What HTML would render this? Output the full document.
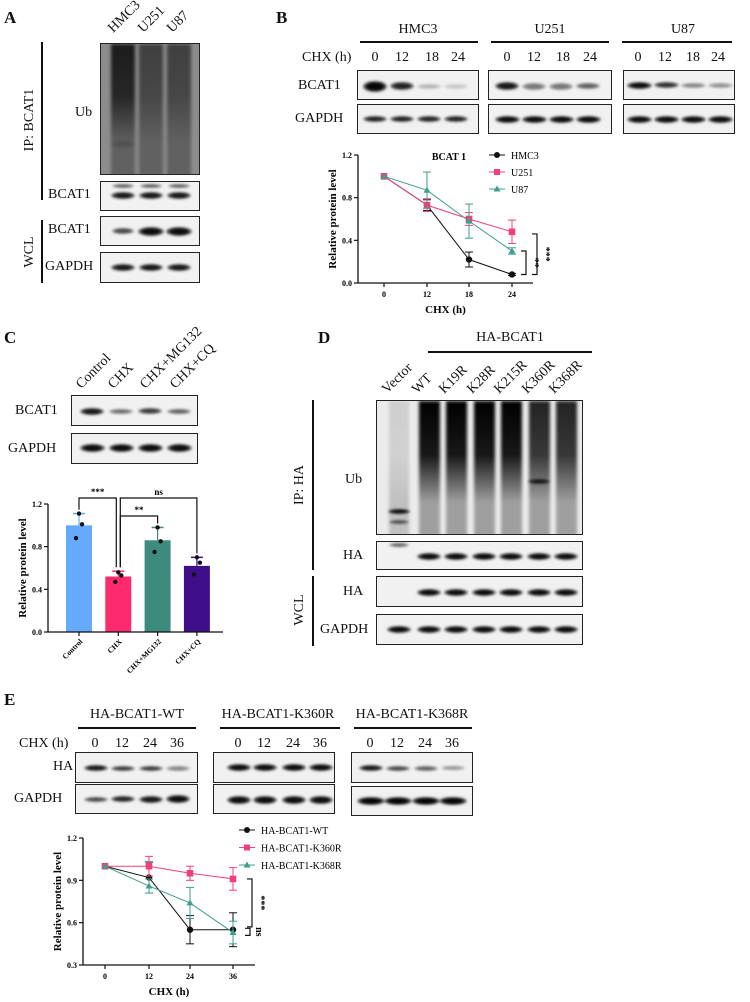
<!DOCTYPE html>
<html><head><meta charset="utf-8">
<style>
html,body{margin:0;padding:0;background:#fff;}
#root{position:relative;width:750px;height:1002px;overflow:hidden;font-family:"Liberation Serif",serif;color:#111;}
.t{position:absolute;white-space:nowrap;font-size:14px;line-height:1;}
.pl{position:absolute;font-weight:bold;font-size:17px;font-family:"Liberation Serif",serif;}
.box{position:absolute;border:1.5px solid #222;background:#f1f1f1;overflow:hidden;box-sizing:border-box;}
.band{position:absolute;border-radius:50%;filter:blur(1.2px);}
.hl{position:absolute;height:2px;background:#111;}
.vl{position:absolute;width:1.5px;background:#111;}
.rot{position:absolute;white-space:nowrap;font-size:14px;transform-origin:0 100%;transform:rotate(-45deg);line-height:1;}
.vr{position:absolute;white-space:nowrap;font-size:14px;transform:translate(-50%,-50%) rotate(-90deg);line-height:1;}
svg text{font-family:"Liberation Serif",serif;}
</style></head>
<body>
<div id="root">

<!-- Panel A -->
<div class="pl" style="left:4px;top:8px">A</div>
<div class="rot" style="left:116px;top:22px">HMC3</div>
<div class="rot" style="left:146px;top:22px">U251</div>
<div class="rot" style="left:175px;top:22px">U87</div>
<div class="vl" style="left:41px;top:42px;height:158px"></div>
<div class="vr" style="left:30px;top:120px">IP: BCAT1</div>
<div class="vl" style="left:41px;top:220px;height:63px"></div>
<div class="vr" style="left:30px;top:252px">WCL</div>
<div class="t" style="left:75px;top:106px">Ub</div>
<div class="t" style="left:48px;top:188px">BCAT1</div>
<div class="t" style="left:48px;top:223px">BCAT1</div>
<div class="t" style="left:45px;top:260px">GAPDH</div>
<div class="box" id="a-ub" style="left:100px;top:43px;width:100px;height:132px;background:#8c8c8c"></div>
<div class="box" id="a-b1" style="left:100px;top:181px;width:100px;height:30px"></div>
<div class="box" id="a-b2" style="left:100px;top:216px;width:100px;height:30px"></div>
<div class="box" id="a-g" style="left:100px;top:252px;width:100px;height:31px"></div>

<!-- Panel B -->
<div class="pl" style="left:276px;top:8px">B</div>
<div class="t" style="left:418px;top:23px;transform:translateX(-50%)">HMC3</div>
<div class="t" style="left:550px;top:23px;transform:translateX(-50%)">U251</div>
<div class="t" style="left:683px;top:23px;transform:translateX(-50%)">U87</div>
<div class="hl" style="left:360px;top:41px;width:118px"></div>
<div class="hl" style="left:491px;top:41px;width:118px"></div>
<div class="hl" style="left:622px;top:41px;width:110px"></div>
<div class="t" style="left:302px;top:51px">CHX (h)</div>
<div id="b-lanes"></div>
<div class="t" style="left:298px;top:79px">BCAT1</div>
<div class="t" style="left:295px;top:112px">GAPDH</div>
<div class="box" id="b-b1" style="left:357px;top:70px;width:122px;height:30px"></div>
<div class="box" id="b-g1" style="left:357px;top:104px;width:122px;height:30px"></div>
<div class="box" id="b-b2" style="left:488px;top:70px;width:124px;height:30px"></div>
<div class="box" id="b-g2" style="left:488px;top:104px;width:124px;height:30px"></div>
<div class="box" id="b-b3" style="left:623px;top:70px;width:112px;height:30px"></div>
<div class="box" id="b-g3" style="left:623px;top:104px;width:112px;height:30px"></div>
<svg id="chartB" style="position:absolute;left:0;top:0" width="750" height="1002"></svg>

<!-- Panel C -->
<div class="pl" style="left:4px;top:328px">C</div>
<div class="rot" style="left:84px;top:378px">Control</div>
<div class="rot" style="left:116px;top:378px">CHX</div>
<div class="rot" style="left:148px;top:378px">CHX+MG132</div>
<div class="rot" style="left:178px;top:378px">CHX+CQ</div>
<div class="t" style="left:15px;top:404px">BCAT1</div>
<div class="t" style="left:8px;top:442px">GAPDH</div>
<div class="box" id="c-b" style="left:71px;top:395px;width:127px;height:31px"></div>
<div class="box" id="c-g" style="left:71px;top:433px;width:127px;height:31px"></div>

<!-- Panel D -->
<div class="pl" style="left:318px;top:328px">D</div>
<div class="t" style="left:510px;top:331px;transform:translateX(-50%)">HA-BCAT1</div>
<div class="hl" style="left:428px;top:351px;width:164px"></div>
<div id="d-lanes"></div>
<div class="vl" style="left:312px;top:400px;height:170px"></div>
<div class="vr" style="left:300px;top:485px">IP: HA</div>
<div class="vl" style="left:312px;top:576px;height:70px"></div>
<div class="vr" style="left:300px;top:610px">WCL</div>
<div class="t" style="left:345px;top:473px">Ub</div>
<div class="t" style="left:343px;top:549px">HA</div>
<div class="t" style="left:343px;top:585px">HA</div>
<div class="t" style="left:320px;top:623px">GAPDH</div>
<div class="box" id="d-ub" style="left:376px;top:400px;width:207px;height:135px;background:#ebebeb"></div>
<div class="box" id="d-ha1" style="left:376px;top:541px;width:207px;height:29px"></div>
<div class="box" id="d-ha2" style="left:376px;top:576px;width:207px;height:31px"></div>
<div class="box" id="d-g" style="left:376px;top:614px;width:207px;height:31px"></div>

<!-- Panel E -->
<div class="pl" style="left:4px;top:690px">E</div>
<div class="t" style="left:137px;top:708px;transform:translateX(-50%)">HA-BCAT1-WT</div>
<div class="t" style="left:278px;top:708px;transform:translateX(-50%)">HA-BCAT1-K360R</div>
<div class="t" style="left:412px;top:708px;transform:translateX(-50%)">HA-BCAT1-K368R</div>
<div class="hl" style="left:78px;top:727px;width:118px"></div>
<div class="hl" style="left:220px;top:727px;width:120px"></div>
<div class="hl" style="left:354px;top:727px;width:118px"></div>
<div class="t" style="left:19px;top:737px">CHX (h)</div>
<div id="e-lanes"></div>
<div class="t" style="left:53px;top:760px">HA</div>
<div class="t" style="left:14px;top:792px">GAPDH</div>
<div class="box" id="e-h1" style="left:75px;top:752px;width:123px;height:31px"></div>
<div class="box" id="e-g1" style="left:75px;top:784px;width:123px;height:30px"></div>
<div class="box" id="e-h2" style="left:213px;top:752px;width:122px;height:31px"></div>
<div class="box" id="e-g2" style="left:213px;top:784px;width:122px;height:30px"></div>
<div class="box" id="e-h3" style="left:351px;top:752px;width:122px;height:31px"></div>
<div class="box" id="e-g3" style="left:351px;top:786px;width:122px;height:30px"></div>
</div>

<script>
// ---------- chart data ----------
const bTimes = [0, 12, 18, 24];
const bHMC3 = [1.0, 0.73, 0.22, 0.08];
const bHMC3Err = [0, 0.05, 0.07, 0.01];
const bU251 = [1.0, 0.73, 0.60, 0.48];
const bU251Err = [0, 0.06, 0.06, 0.11];
const bU87 = [1.0, 0.87, 0.58, 0.30];
const bU87Err = [0, 0.17, 0.16, 0.03];
const bYTicks = [0.0, 0.4, 0.8, 1.2];

const cCats = ["Control", "CHX", "CHX+MG132", "CHX+CQ"];
const cMeans = [1.0, 0.52, 0.86, 0.62];
const cErr = [0.11, 0.05, 0.12, 0.08];
const cPoints = [[1.11, 1.01, 0.88], [0.56, 0.53, 0.47], [0.98, 0.85, 0.75], [0.70, 0.65, 0.54]];
const cYTicks = [0.0, 0.4, 0.8, 1.2];

const eTimes = [0, 12, 24, 36];
const eWT = [1.0, 0.92, 0.55, 0.55];
const eWTErr = [0, 0.11, 0.1, 0.12];
const eK360 = [1.0, 1.0, 0.95, 0.91];
const eK360Err = [0, 0.07, 0.05, 0.08];
const eK368 = [1.0, 0.86, 0.74, 0.53];
const eK368Err = [0, 0.05, 0.11, 0.08];
const eYTicks = [0.3, 0.6, 0.9, 1.2];

const NS = "http://www.w3.org/2000/svg";
function sv(parent, tag, attrs) {
  const e = document.createElementNS(NS, tag);
  for (const k in attrs) e.setAttribute(k, attrs[k]);
  parent.appendChild(e);
  return e;
}
function txt(parent, x, y, s, size, anchor, extra) {
  const e = sv(parent, "text", Object.assign({x: x, y: y, "font-size": size, "font-weight": "bold", "text-anchor": anchor || "middle"}, extra || {}));
  e.textContent = s;
  return e;
}

// ---------- blot helpers ----------
function band(boxId, cx, cy, w, h, a) {
  const box = document.getElementById(boxId);
  const d = document.createElement("div");
  d.className = "band";
  
  
  d.style.left = (cx - w / 2) + "px";
  d.style.top = (cy - h / 2) + "px";
  d.style.width = w + "px";
  d.style.height = h + "px";
  d.style.background = "radial-gradient(ellipse at center, rgba(0,0,0," + a + ") 45%, rgba(0,0,0," + (a * 0.5) + ") 70%, rgba(0,0,0,0) 100%)";
  box.appendChild(d);
}
function smear(boxId, cx, w, topA, botA, h) {
  const box = document.getElementById(boxId);
  const d = document.createElement("div");
  
  
  d.style.position = "absolute";
  d.style.left = (cx - w / 2) + "px";
  d.style.top = "0px";
  d.style.width = w + "px";
  d.style.height = h + "px";
  d.style.filter = "blur(1.5px)";
  d.style.background = "linear-gradient(to bottom, rgba(0,0,0," + topA + ") 0%, rgba(0,0,0," + (topA * 0.9) + ") 40%, rgba(0,0,0," + botA + ") 75%, rgba(0,0,0," + botA + ") 100%)";
  box.appendChild(d);
}
function lane(containerId, x, y, s) {
  const c = document.getElementById(containerId);
  const d = document.createElement("div");
  d.className = "t";
  
  
  d.style.left = x + "px";
  d.style.top = y + "px";
  d.style.transform = "translateX(-50%)";
  d.textContent = s;
  c.appendChild(d);
}
function rotLane(containerId, x, y, s) {
  const c = document.getElementById(containerId);
  const d = document.createElement("div");
  d.className = "rot";
  
  
  d.style.left = x + "px";
  d.style.top = y + "px";
  d.textContent = s;
  c.appendChild(d);
}

// Panel A blots
[22, 50, 78].forEach((x, i) => smear("a-ub", x, 24, [0.8, 0.55, 0.55][i], 0.3, 132));
band("a-ub", 22, 100, 24, 8, 0.15);
[22, 50, 78].forEach(x => { band("a-b1", x, 4, 22, 4, 0.6); band("a-b1", x, 13, 24, 7, 0.9); });
band("a-b2", 22, 14, 22, 6, 0.7); band("a-b2", 50, 14, 26, 9, 0.95); band("a-b2", 78, 14, 26, 9, 0.95);
[22, 50, 78].forEach(x => band("a-g", x, 14, 24, 7, 0.9));

// Panel B blots
const bLaneX = [375, 402, 432, 458];
["0", "12", "18", "24"].forEach((s, i) => lane("b-lanes", bLaneX[i], 51, s));
["0", "12", "18", "24"].forEach((s, i) => lane("b-lanes", [507, 534, 563, 590][i], 51, s));
["0", "12", "18", "24"].forEach((s, i) => lane("b-lanes", [638, 665, 693, 718][i], 51, s));
[[0.98, 11], [0.85, 8], [0.25, 5], [0.18, 5]].forEach((v, i) => band("b-b1", 17 + i * 27, 15, 24, v[1], v[0]));
[0, 1, 2, 3].forEach(i => band("b-g1", 17 + i * 27, 14, 24, 6, 0.85));
[[0.9, 8], [0.5, 7], [0.5, 7], [0.6, 6]].forEach((v, i) => band("b-b2", 18 + i * 27, 15, 24, v[1], v[0]));
[0, 1, 2, 3].forEach(i => band("b-g2", 18 + i * 27, 14, 25, 7, 0.95));
[[0.95, 7], [0.8, 6], [0.45, 5], [0.4, 5]].forEach((v, i) => band("b-b3", 15 + i * 27, 14, 25, v[1], v[0]));
[0, 1, 2, 3].forEach(i => band("b-g3", 15 + i * 27, 14, 25, 7, 0.95));

// Panel C blots
[[0.9, 7], [0.55, 5], [0.75, 6], [0.6, 5]].forEach((v, i) => band("c-b", 20 + i * 29, 15, 24, v[1], v[0]));
[0, 1, 2, 3].forEach(i => band("c-g", 20 + i * 29, 14, 25, 8, 0.95));

// Panel D
const dLanes = ["Vector", "WT", "K19R", "K28R", "K215R", "K360R", "K368R"];
const dX = [398, 428, 455, 483, 510, 538, 565];
dLanes.forEach((s, i) => rotLane("d-lanes", dX[i] - 8, 383, s));
dX.forEach((x, i) => {
  const rx = x - 376;
  if (i === 0) smear("d-ub", rx, 20, 0.12, 0.18, 135);
  else smear("d-ub", rx, 21, i >= 5 ? 0.85 : 1.0, 0.32, 135);
});
band("d-ub", 22, 110, 22, 5, 0.95); band("d-ub", 22, 121, 20, 4, 0.6);
band("d-ub", 162, 80, 22, 5, 0.8);
dX.forEach((x, i) => { if (i > 0) band("d-ha1", x - 376, 14, 24, 7, 0.95); });
band("d-ha1", 22, 3, 20, 4, 0.6);
dX.forEach((x, i) => { if (i > 0) band("d-ha2", x - 376, 15, 24, 7, 0.95); });
dX.forEach((x, i) => band("d-g", x - 376, 14, 24, 7, 0.95));

// Panel E
const eLaneSets = [[95, 122, 150, 177], [238, 264, 293, 320], [370, 397, 425, 452]];
eLaneSets.forEach(set => ["0", "12", "24", "36"].forEach((s, i) => lane("e-lanes", set[i], 737, s)));
[[0.9, 6], [0.75, 5], [0.75, 5], [0.45, 5]].forEach((v, i) => band("e-h1", eLaneSets[0][i] - 75, 15, 24, v[1], v[0]));
[[0.7, 5], [0.85, 6], [0.9, 7], [0.95, 8]].forEach((v, i) => band("e-g1", eLaneSets[0][i] - 75, 14, 24, v[1], v[0]));
[0, 1, 2, 3].forEach(i => band("e-h2", eLaneSets[1][i] - 213, 14, 24, 7, 0.95));
[0, 1, 2, 3].forEach(i => band("e-g2", eLaneSets[1][i] - 213, 15, 24, 8, 0.95));
[[0.9, 6], [0.7, 5], [0.6, 5], [0.4, 4]].forEach((v, i) => band("e-h3", eLaneSets[2][i] - 351, 15, 24, v[1], v[0]));
[0, 1, 2, 3].forEach(i => band("e-g3", eLaneSets[2][i] - 351, 14, 28, 8, 0.98));

// ---------- line chart helper ----------
const svg = document.getElementById("chartB");
function lineChart(cfg) {
  const g = sv(svg, "g", {});
  
  
  const ys = v => cfg.y0 - (v - cfg.ymin) / (cfg.ymax - cfg.ymin) * (cfg.y0 - cfg.y1);
  const xs = i => cfg.xpos[i];
  sv(g, "line", {x1: cfg.ax, y1: cfg.y1, x2: cfg.ax, y2: cfg.y0, stroke: "#111", "stroke-width": 1.3});
  sv(g, "line", {x1: cfg.ax, y1: cfg.y0, x2: cfg.axEnd, y2: cfg.y0, stroke: "#111", "stroke-width": 1.3});
  cfg.yTicks.forEach(t => {
    sv(g, "line", {x1: cfg.ax - 4, y1: ys(t), x2: cfg.ax, y2: ys(t), stroke: "#111", "stroke-width": 1.2});
    txt(g, cfg.ax - 6, ys(t) + 3, t.toFixed(1), 8, "end");
  });
  cfg.xLabels.forEach((t, i) => {
    sv(g, "line", {x1: xs(i), y1: cfg.y0, x2: xs(i), y2: cfg.y0 + 4, stroke: "#111", "stroke-width": 1.2});
    txt(g, xs(i), cfg.y0 + 14, String(t), 8, "middle");
  });
  txt(g, (cfg.ax + cfg.axEnd) / 2, cfg.y0 + 30, "CHX (h)", 11, "middle");
  txt(g, 0, 0, "Relative protein level", 11, "middle", {transform: "translate(" + (cfg.ax - 22) + "," + ((cfg.y0 + cfg.y1) / 2) + ") rotate(-90)"});
  cfg.series.forEach((s, si) => {
    const pts = s.vals.map((v, i) => xs(i) + "," + ys(v)).join(" ");
    sv(g, "polyline", {points: pts, fill: "none", stroke: s.color, "stroke-width": 1});
    s.vals.forEach((v, i) => {
      const e = s.err[i];
      if (e > 0) {
        sv(g, "line", {x1: xs(i), y1: ys(v + e), x2: xs(i), y2: ys(v - e), stroke: s.color, "stroke-width": 1});
        sv(g, "line", {x1: xs(i) - 4, y1: ys(v + e), x2: xs(i) + 4, y2: ys(v + e), stroke: s.color, "stroke-width": 1});
        sv(g, "line", {x1: xs(i) - 4, y1: ys(v - e), x2: xs(i) + 4, y2: ys(v - e), stroke: s.color, "stroke-width": 1});
      }
      let m;
      if (s.shape === "circle") m = sv(g, "circle", {cx: xs(i), cy: ys(v), r: 3.2, fill: s.color});
      else if (s.shape === "square") m = sv(g, "rect", {x: xs(i) - 3.3, y: ys(v) - 3.3, width: 6.6, height: 6.6, fill: s.color});
      else m = sv(g, "polygon", {points: (xs(i)) + "," + (ys(v) - 3.5) + " " + (xs(i) - 3.5) + "," + (ys(v) + 2.5) + " " + (xs(i) + 3.5) + "," + (ys(v) + 2.5), fill: s.color});
      
      
    });
  });
  cfg.series.forEach((s, si) => {
    const ly = cfg.legY + si * cfg.legDy;
    sv(g, "line", {x1: cfg.legX - 8, y1: ly, x2: cfg.legX + 8, y2: ly, stroke: s.color, "stroke-width": 1});
    if (s.shape === "circle") sv(g, "circle", {cx: cfg.legX, cy: ly, r: 3, fill: s.color});
    else if (s.shape === "square") sv(g, "rect", {x: cfg.legX - 3, y: ly - 3, width: 6, height: 6, fill: s.color});
    else sv(g, "polygon", {points: cfg.legX + "," + (ly - 3.5) + " " + (cfg.legX - 3.5) + "," + (ly + 2.5) + " " + (cfg.legX + 3.5) + "," + (ly + 2.5), fill: s.color});
    const lt = sv(g, "text", {x: cfg.legX + 14, y: ly + 4, "font-size": cfg.legFont});
    lt.textContent = s.label;
    
    
  });
  return {g: g, ys: ys, xs: xs};
}

const cb = lineChart({
  name: "line-chart-b", ax: 358, axEnd: 533, y0: 283, y1: 155, ymin: 0, ymax: 1.2,
  xpos: [384, 427, 469, 512], xLabels: bTimes, yTicks: bYTicks,
  legX: 497, legY: 155, legDy: 17, legFont: 10,
  series: [
    {label: "HMC3", vals: bHMC3, err: bHMC3Err, color: "#111", shape: "circle"},
    {label: "U251", vals: bU251, err: bU251Err, color: "#f0407a", shape: "square"},
    {label: "U87", vals: bU87, err: bU87Err, color: "#3e9e8c", shape: "triangle"}
  ]
});
txt(cb.g, 449, 160, "BCAT 1", 10, "middle");
function vbracket(g, x, ya, yb, label, off) {
  sv(g, "polyline", {points: (x - 5) + "," + ya + " " + x + "," + ya + " " + x + "," + yb + " " + (x - 5) + "," + yb, fill: "none", stroke: "#111", "stroke-width": 1.2});
  txt(g, 0, 0, label, 10, "middle", {transform: "translate(" + (x + off) + "," + ((ya + yb) / 2) + ") rotate(90)"});
}
vbracket(cb.g, 526, cb.ys(bU87[3]), cb.ys(bHMC3[3]), "**", 6);
vbracket(cb.g, 537, cb.ys(bU251[3] - 0.02), cb.ys(bHMC3[3]), "***", 6);

const ce = lineChart({
  name: "line-chart-e", ax: 83, axEnd: 255, y0: 965, y1: 838, ymin: 0.3, ymax: 1.2,
  xpos: [105, 149, 190, 233], xLabels: eTimes, yTicks: eYTicks,
  legX: 247, legY: 830, legDy: 17.5, legFont: 10,
  series: [
    {label: "HA-BCAT1-WT", vals: eWT, err: eWTErr, color: "#111", shape: "circle"},
    {label: "HA-BCAT1-K360R", vals: eK360, err: eK360Err, color: "#f0407a", shape: "square"},
    {label: "HA-BCAT1-K368R", vals: eK368, err: eK368Err, color: "#3e9e8c", shape: "triangle"}
  ]
});
vbracket(ce.g, 252, ce.ys(eK360[3]), ce.ys(0.57), "***", 6);
vbracket(ce.g, 250, ce.ys(0.56), ce.ys(0.51), "ns", 6);

(function () {
  const g = sv(svg, "g", {});
  
  
  const ax = 48, axEnd = 223, y0 = 632, y1 = 504, ymax = 1.2;
  const ys = v => y0 - v / ymax * (y0 - y1);
  const xs = i => 79 + i * 39.3;
  const colors = ["#66aaff", "#ff2a6d", "#3d8b7d", "#3f0f8a"];
  cMeans.forEach((m, i) => {
    const b = sv(g, "rect", {x: xs(i) - 13, y: ys(m), width: 26, height: y0 - ys(m), fill: colors[i]});
    
    
    const e = cErr[i];
    sv(g, "line", {x1: xs(i), y1: ys(m), x2: xs(i), y2: ys(m + e), stroke: colors[i], "stroke-width": 1.2});
    sv(g, "line", {x1: xs(i) - 6, y1: ys(m + e), x2: xs(i) + 6, y2: ys(m + e), stroke: colors[i], "stroke-width": 1.5});
    cPoints[i].forEach((p, j) => sv(g, "circle", {cx: xs(i) + [0, 1, -1][j] * 3, cy: ys(p), r: 2.2, fill: "#111"}));
  });
  sv(g, "line", {x1: ax, y1: y1, x2: ax, y2: y0, stroke: "#111", "stroke-width": 1.3});
  sv(g, "line", {x1: ax, y1: y0, x2: axEnd, y2: y0, stroke: "#111", "stroke-width": 1.3});
  cYTicks.forEach(t => {
    sv(g, "line", {x1: ax - 4, y1: ys(t), x2: ax, y2: ys(t), stroke: "#111", "stroke-width": 1.2});
    txt(g, ax - 6, ys(t) + 3, t.toFixed(1), 8, "end");
  });
  cCats.forEach((c, i) => {
    sv(g, "line", {x1: xs(i), y1: y0, x2: xs(i), y2: y0 + 4, stroke: "#111", "stroke-width": 1.2});
    txt(g, 0, 0, c, 7.5, "end", {transform: "translate(" + (xs(i) + 4) + "," + (y0 + 10) + ") rotate(-45)"});
  });
  txt(g, 0, 0, "Relative protein level", 11, "middle", {transform: "translate(" + (ax - 22) + "," + ((y0 + y1) / 2) + ") rotate(-90)"});
  function hb(xa, xb, y, ya, yb, label) {
    sv(g, "polyline", {points: xa + "," + ya + " " + xa + "," + y + " " + xb + "," + y + " " + xb + "," + yb, fill: "none", stroke: "#111", "stroke-width": 1.2});
    txt(g, (xa + xb) / 2, y - 3, label, 9, "middle");
  }
  hb(xs(0), xs(1) - 2, 498, ys(cMeans[0] + cErr[0]) - 4, ys(cMeans[1] + cErr[1]) - 4, "***");
  hb(xs(1) + 2, xs(3), 498, ys(cMeans[1] + cErr[1]) - 4, ys(cMeans[3] + cErr[3]) - 4, "ns");
  hb(xs(1) + 2, xs(2), 516, ys(cMeans[1] + cErr[1]) - 4, ys(cMeans[2] + cErr[2]) - 4, "**");
})();
</script>
</body></html>
